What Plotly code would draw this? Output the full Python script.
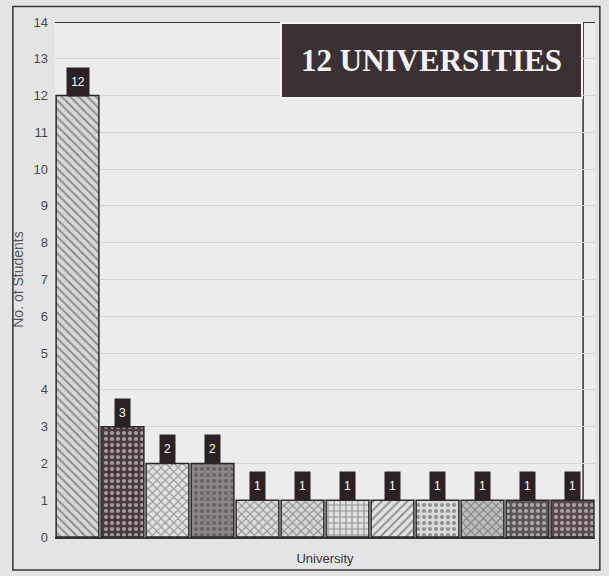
import plotly.graph_objects as go

universities = ["U1", "U2", "U3", "U4", "U5", "U6", "U7", "U8", "U9", "U10", "U11", "U12"]
students = [12, 3, 2, 2, 1, 1, 1, 1, 1, 1, 1, 1]
fill_colors = ["#d8d8d8", "#4a3a3c", "#e2e2e2", "#8c8488", "#dcdcdc", "#d6d6d8",
               "#e0e0e0", "#e4e4e4", "#dadada", "#bdbdbd", "#5e5658", "#5a4a4c"]
pattern_shapes = ["\\", ".", "x", ".", "x", "x", "+", "/", ".", "x", ".", "."]
pattern_fg = ["#333333", "#2a2022", "#777777", "#3a3234", "#888888", "#777777",
              "#777777", "#999999", "#888888", "#666666", "#f0f0f0", "#3a2a2c"]

fig = go.Figure()
fig.add_trace(go.Bar(
    x=universities, y=students,
    marker=dict(color=fill_colors,
                line=dict(color="#2a2a2a", width=1.5),
                pattern=dict(shape=pattern_shapes, fgcolor=pattern_fg, size=6, solidity=0.35)),
    showlegend=False, hoverinfo="skip"))

for u, v in zip(universities, students):
    fig.add_annotation(x=u, y=v, text=str(v), showarrow=False, yshift=14, yanchor="middle",
                       bgcolor="#2c2224", height=26, width=13 if v < 10 else 20,
                       font=dict(color="white", size=12, family="Liberation Sans"))

fig.add_annotation(xref="paper", yref="paper", x=0.978, y=1.0, xanchor="right", yanchor="top",
                   text="<b>12 UNIVERSITIES</b>", showarrow=False,
                   bgcolor="#3b3033", bordercolor="#f4f4f4", borderwidth=2, borderpad=19,
                   font=dict(color="#f2f2f2", size=31, family="Liberation Serif"))

fig.add_shape(type="rect", xref="paper", yref="paper", x0=-0.078, x1=1.009, y0=-0.064, y1=1.03,
              line=dict(color="#333333", width=1.5), fillcolor="rgba(0,0,0,0)", layer="below")
fig.add_shape(type="line", xref="paper", yref="paper", x0=0.978, x1=0.978, y0=0, y1=1,
              line=dict(color="#333333", width=1.5), layer="below")

fig.update_layout(
    width=609, height=576,
    margin=dict(l=55, r=14, t=22, b=39, autoexpand=False),
    paper_bgcolor="#e4e4e6", plot_bgcolor="#ececee",
    bargap=0.05,
    font=dict(family="Liberation Sans", color="#3a3a3a"),
    xaxis=dict(showticklabels=False, showgrid=False, showline=True, linecolor="#333333", linewidth=2,
               range=[-0.5, 11.5], automargin=False,
               title=dict(text="University", font=dict(size=13, color="#333333"), standoff=16)),
    yaxis=dict(range=[0, 14], dtick=1, showgrid=True, gridcolor="#d6d6d8", gridwidth=1,
               zeroline=False, showline=False, tickfont=dict(size=13, color="#4a4a4a"),
               ticks="", automargin=False, ticklabelstandoff=6,
               title=dict(text="No. of Students", font=dict(size=14, color="#555555"), standoff=6)),
)
fig.add_hline(y=14, line=dict(color="#333333", width=2))

fig.write_html("out.html", config={"displayModeBar": False},
               post_script="document.body.style.margin='0';document.body.style.background='#e4e4e6';")
